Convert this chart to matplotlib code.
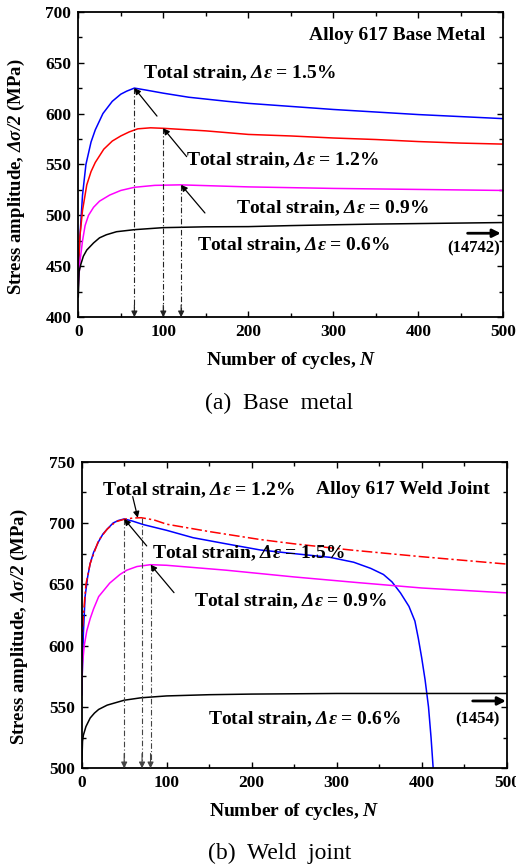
import matplotlib
matplotlib.use("Agg")
import matplotlib.pyplot as plt
from matplotlib.ticker import MultipleLocator

plt.rcParams["font.family"] = ["Liberation Serif", "DejaVu Serif"]
plt.rcParams["font.weight"] = "bold"
plt.rcParams["mathtext.fontset"] = "custom"
plt.rcParams["mathtext.rm"] = "Liberation Serif:italic:bold"
plt.rcParams["mathtext.it"] = "Liberation Serif:italic:bold"
plt.rcParams["mathtext.bf"] = "Liberation Serif:italic:bold"

# ---- Base metal: stress amplitude (MPa) vs number of cycles ----
bm_n_15 = [0, 2, 5, 9, 15, 20, 29, 40, 50, 57, 66, 80, 100, 130, 175, 200, 250, 300, 350, 400, 450, 500]
bm_s_15 = [440, 480, 520, 550, 572, 584, 600, 612, 619, 622, 625, 623, 620, 616, 612, 610, 607, 604, 601.5, 599, 597, 595]

bm_n_12 = [0, 2, 5, 10, 15, 20, 30, 40, 50, 60, 70, 85, 100, 150, 200, 250, 300, 350, 400, 450, 500]
bm_s_12 = [445, 480, 505, 530, 543, 552, 565, 573, 578, 582, 585, 586, 585.5, 583, 579.5, 578, 576, 574.5, 572.5, 571, 570]

bm_n_09 = [0, 2, 5, 8, 12, 18, 25, 37, 50, 66, 90, 120, 200, 300, 400, 500]
bm_s_09 = [430, 455, 475, 490, 500, 508, 514, 520, 524.5, 527.6, 529.5, 530, 528, 526.5, 525.5, 524.5]

bm_n_06 = [0, 1, 3, 6, 10, 18, 25, 33, 45, 66, 100, 150, 200, 250, 300, 350, 400, 450, 500]
bm_s_06 = [420, 445, 452, 460, 466, 473, 478, 481, 484, 486, 488, 488.8, 489, 490, 490.8, 491.5, 492, 492.5, 493]

# cycles at peak stress for 1.5 %, 1.2 %, 0.9 % and the peak stresses
bm_peak_n = [66, 100, 121]
bm_peak_s = [625, 585.5, 530]

# ---- Weld joint ----
wj_n_15 = [0, 2, 4, 7, 10, 14, 20, 25, 30, 37, 43, 50, 60, 73, 100, 131, 170, 210, 250, 292, 320, 340,
           355, 365, 375, 385, 392, 396, 400, 404, 408, 411, 414]
wj_s_15 = [560, 610, 640, 656, 667, 676, 685, 691, 695, 700, 702, 703.3, 701.5, 698.6, 694, 688, 683, 678,
           675, 672, 668, 663, 658, 652, 643, 632, 620, 606, 590, 572, 550, 525, 495]

wj_n_12 = [0, 2, 5, 10, 20, 30, 40, 50, 60, 70, 85, 100, 150, 210, 250, 316, 400, 450, 500]
wj_s_12 = [600, 625, 650, 667, 686, 695, 701, 703, 704, 704.3, 702.5, 699, 693, 686.5, 683, 678, 672.5, 669.5, 666.5]

wj_n_09 = [0, 1, 3, 6, 10, 14, 20, 33, 45, 53, 65, 81, 100, 170, 250, 323, 400, 450, 500]
wj_s_09 = [560, 585, 600, 612, 622, 630, 640, 651, 658, 661.5, 664.5, 666, 665.5, 661.5, 656, 651.5, 647, 645, 643]

wj_n_06 = [0, 1, 2, 5, 10, 15, 20, 30, 50, 70, 100, 150, 200, 300, 400, 500]
wj_s_06 = [500, 522, 527, 534, 541, 545, 548, 551.5, 555.5, 557.5, 559, 560, 560.5, 561, 561, 561]

# cycles at peak stress for 1.5 %, 1.2 %, 0.9 % and the peak stresses
wj_peak_n = [50, 71, 81]
wj_peak_s = [703.3, 704.3, 666]

strain_labels = ["1.5%", "1.2%", "0.9%", "0.6%"]
colors = ["#0000ff", "#ff0000", "#ff00ff", "#000000"]

ANN = 14  # annotation font size


def strain_text(v):
    return r"Total strain, $\Delta\varepsilon$ = " + v


def style_axes(ax, ymin, ymax):
    ax.set_xlim(0, 500)
    ax.set_ylim(ymin, ymax)
    ax.xaxis.set_major_locator(MultipleLocator(100))
    ax.xaxis.set_minor_locator(MultipleLocator(50))
    ax.yaxis.set_major_locator(MultipleLocator(50))
    ax.yaxis.set_minor_locator(MultipleLocator(25))
    ax.tick_params(which="both", direction="in", top=True, right=True, width=1.0)
    ax.tick_params(which="major", length=4, labelsize=12.5, pad=5)
    ax.tick_params(which="minor", length=3)
    for sp in ax.spines.values():
        sp.set_linewidth(1.3)
    for lab in ax.get_xticklabels() + ax.get_yticklabels():
        lab.set_fontweight("bold")
    ax.set_xlabel(r"Number of cycles, $N$", fontsize=14, fontweight="bold", va="center")
    ax.set_ylabel(r"Stress amplitude, $\Delta\sigma/2$ (MPa)", fontsize=13.5, fontweight="bold", va="center")


def peak_markers(ax, ns, ss, ymin, color):
    for n, s in zip(ns, ss):
        ax.plot([n, n], [s, ymin + 6], color=color, lw=0.8, ls=(0, (5, 2, 1, 2)))
        ax.annotate("", xy=(n, ymin), xytext=(n, ymin + 12),
                    arrowprops=dict(arrowstyle="-|>", color=color, lw=0.8,
                                    mutation_scale=9, shrinkA=0, shrinkB=0))


def pointer(ax, tail, head):
    ax.annotate("", xy=head, xytext=tail,
                arrowprops=dict(arrowstyle="-|>", color="black", lw=0.9,
                                mutation_scale=9, shrinkA=0, shrinkB=0))


fig = plt.figure(figsize=(5.16, 8.65), dpi=100)

# (a) base metal
ax1 = fig.add_axes([0.1517, 0.6332, 0.8237, 0.3533])
for n, s, c in zip([bm_n_15, bm_n_12, bm_n_09, bm_n_06], [bm_s_15, bm_s_12, bm_s_09, bm_s_06], colors):
    ax1.plot(n, s, color=c, lw=1.1)
peak_markers(ax1, bm_peak_n, bm_peak_s, 400, "#222222")
style_axes(ax1, 400, 700)
ax1.xaxis.set_label_coords(0.5, -0.142)
ax1.yaxis.set_label_coords(-0.145, 0.46)

ax1.text(478.5, 677, "Alloy 617 Base Metal", ha="right", va="center", fontsize=ANN, fontweight="bold")
ax1.text(75.8, 639.5, strain_text(strain_labels[0]), ha="left", va="center", fontsize=ANN, fontweight="bold")
ax1.text(126.4, 554.4, strain_text(strain_labels[1]), ha="left", va="center", fontsize=ANN, fontweight="bold")
ax1.text(185.5, 507.0, strain_text(strain_labels[2]), ha="left", va="center", fontsize=ANN, fontweight="bold")
ax1.text(139.6, 471.0, strain_text(strain_labels[3]), ha="left", va="center", fontsize=ANN, fontweight="bold")
ax1.text(496, 468, "(14742)", ha="right", va="center", fontsize=12, fontweight="bold")
ax1.annotate("", xy=(497, 482.5), xytext=(458, 482.5),
             arrowprops=dict(arrowstyle="-|>", color="black", lw=2.0, mutation_scale=12,
                             shrinkA=0, shrinkB=0))
pointer(ax1, (92.6, 597.5), (bm_peak_n[0], bm_peak_s[0]))
pointer(ax1, (127.5, 557.7), (bm_peak_n[1], bm_peak_s[1]))
pointer(ax1, (149, 502.4), (bm_peak_n[2], bm_peak_s[2]))

fig.text(0.54, 0.534, "(a)  Base  metal", ha="center", va="center", fontsize=17, fontweight="normal")

# (b) weld joint
ax2 = fig.add_axes([0.1583, 0.1118, 0.8237, 0.3545])
ax2.plot(wj_n_15, wj_s_15, color=colors[0], lw=1.1)
ax2.plot(wj_n_12, wj_s_12, color=colors[1], lw=1.1, ls=(0, (7, 2, 1.5, 2)))
ax2.plot(wj_n_09, wj_s_09, color=colors[2], lw=1.1)
ax2.plot(wj_n_06, wj_s_06, color=colors[3], lw=1.1)
peak_markers(ax2, wj_peak_n, wj_peak_s, 500, "#444444")
style_axes(ax2, 500, 750)
ax2.xaxis.set_label_coords(0.5, -0.14)
ax2.yaxis.set_label_coords(-0.1475, 0.46)

ax2.text(23.5, 726.4, strain_text(strain_labels[1]), ha="left", va="center", fontsize=ANN, fontweight="bold")
ax2.text(479.5, 727.5, "Alloy 617 Weld Joint", ha="right", va="center", fontsize=ANN, fontweight="bold")
ax2.text(82.4, 675.3, strain_text(strain_labels[0]), ha="left", va="center", fontsize=ANN, fontweight="bold")
ax2.text(132.5, 635.8, strain_text(strain_labels[2]), ha="left", va="center", fontsize=ANN, fontweight="bold")
ax2.text(149, 540, strain_text(strain_labels[3]), ha="left", va="center", fontsize=ANN, fontweight="bold")
ax2.text(492, 540, "(1454)", ha="right", va="center", fontsize=12, fontweight="bold")
ax2.annotate("", xy=(499, 554.9), xytext=(460, 554.9),
             arrowprops=dict(arrowstyle="-|>", color="black", lw=2.0, mutation_scale=12,
                             shrinkA=0, shrinkB=0))
pointer(ax2, (60, 721.5), (66, 704.2))
pointer(ax2, (76.5, 681.3), (wj_peak_n[0], wj_peak_s[0]))
pointer(ax2, (108.6, 643.2), (wj_peak_n[2], wj_peak_s[2]))

fig.text(0.541, 0.0139, "(b)  Weld  joint", ha="center", va="center", fontsize=17, fontweight="normal")

fig.savefig("out.png", dpi=100)
